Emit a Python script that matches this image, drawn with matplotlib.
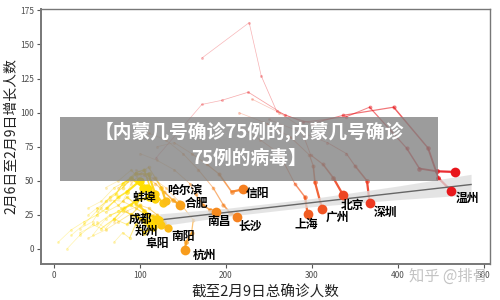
import matplotlib
matplotlib.use("Agg")
import matplotlib.pyplot as plt
import numpy as np
from matplotlib.patches import Rectangle

plt.rcParams['font.family'] = ['Noto Sans CJK SC', 'DejaVu Sans']

# ---------------- data ----------------
city_names = ["温州", "", "深圳", "北京", "广州", "上海", "信阳", "长沙", "南昌",
              "合肥", "杭州", "哈尔滨", "蚌埠", "成都", "郑州", "阜阳", "南阳",
              "", "", "", "", "", "", "", "", "", ""]

traj_x = [
    [119, 172, 195, 226, 269, 300, 336, 395, 435, 447, 462],
    [172, 227, 241, 259, 290, 340, 367, 410, 425, 445, 466],
    [250, 290, 318, 340, 350, 364, 367],
    [230, 262, 286, 298.5, 313, 325, 336],
    [215, 248, 275, 297, 301.5, 303.5, 312],
    [215, 240, 262, 280, 292, 295],
    [120, 140, 160, 178, 192, 206.6, 219.4],
    [110, 130, 150, 168, 185, 197, 204.7, 213],
    [100, 120, 140, 158, 165, 173.6, 181.4, 189],
    [75, 90, 105, 118, 128, 138, 146.5],
    [95, 115, 130, 145, 162, 160, 154, 152],
    [60, 75, 90, 100, 110, 118, 127],
    [40, 55, 70, 85, 95, 105, 112, 117],
    [30, 50, 65, 80, 95, 105, 115.5],
    [40, 60, 75, 90, 100, 112, 125],
    [50, 65, 80, 95, 105, 115, 122],
    [70, 85, 100, 110, 120, 128, 133],
    [5, 20, 35, 50, 62, 75, 85, 100],
    [15, 30, 45, 55, 70, 82, 95, 110],
    [20, 35, 50, 60, 72, 80, 90, 104],
    [30, 45, 55, 65, 80, 95, 110, 118],
    [40, 50, 60, 75, 85, 95, 105, 115],
    [50, 60, 70, 85, 95, 105, 112],
    [60, 70, 78, 90, 100, 108, 120],
    [70, 80, 88, 95, 105, 115],
    [45, 60, 75, 90, 100, 108],
    [80, 90, 100, 110, 118, 125, 130],
]
traj_y = [
    [67, 106, 109, 115, 98, 92, 98, 104, 74, 52, 42.7],
    [140, 166, 127, 101, 93, 97, 104, 74, 59, 57, 56.5],
    [95, 85, 78, 70, 61, 50, 33.9],
    [110, 100, 90, 69, 62, 52, 39.8],
    [100, 92, 82, 69, 61, 49, 29.1],
    [90, 80, 70, 48, 38, 25.7],
    [75, 78, 70, 62, 55, 42, 43.7],
    [85, 80, 70, 58, 45, 32.3, 26.7, 23.3],
    [70, 65, 58, 48, 40, 32.3, 28.6, 27],
    [45, 50, 54, 48, 42, 36, 32.3],
    [58, 52, 45, 35, 21.3, 11.6, 5.5, -0.5],
    [45, 50, 58, 50, 45, 40, 33.5],
    [30, 35, 45, 50, 56, 58, 45, 37],
    [12, 18, 25, 28, 24, 22, 20],
    [8, 14, 20, 26, 22, 20, 17.7],
    [30, 36, 35, 30, 26, 24, 21],
    [20, 28, 32, 30, 25, 20, 15.3],
    [5, 14, 20, 25, 30, 38, 42, 50],
    [0, 10, 18, 15, 22, 30, 35, 38],
    [10, 18, 28, 35, 40, 48, 52, 45],
    [15, 20, 30, 38, 45, 55, 55, 40],
    [25, 30, 27, 32, 38, 33, 28, 20],
    [20, 15, 22, 18, 25, 20, 18],
    [30, 35, 30, 25, 32, 26, 22],
    [5, 12, 8, 18, 12, 16],
    [10, 22, 28, 32, 40, 45],
    [35, 48, 55, 60, 52, 45, 35],
]

# linear fit of growth vs total (line + confidence band)
fit_x = [123, 200, 300, 400, 485]
fit_y = [21.3, 26.8, 34.0, 41.2, 47.3]
fit_se = [4.5, 3.0, 3.0, 5.0, 7.5]

x_ticks = [0, 100, 200, 300, 400, 500]
y_ticks = [0, 25, 50, 75, 100, 125, 150, 175]

title_text = "【内蒙几号确诊75例的,内蒙几号确诊\n75例的病毒】"

# ---------------- style ----------------
label_offsets = {  # pixel offsets of labels from end points
    "温州": (16, -8), "深圳": (16, -10), "北京": (10, -11), "广州": (15, -8),
    "上海": (-1, -11), "信阳": (15, -4), "长沙": (13, -9), "南昌": (3, -9),
    "合肥": (17, 2), "杭州": (20, -6), "哈尔滨": (22, 13), "蚌埠": (-10, 1),
    "成都": (-13, 2), "郑州": (-15, -7), "阜阳": (-2, -23), "南阳": (15, -8),
}

c_pos = [60, 110, 125, 140, 160, 220, 290, 340, 470]
c_hex = ['#FFEA00', '#FFDD00', '#FDC812', '#F9A81B', '#F7941D', '#F57F20',
         '#F15F22', '#EE4322', '#E8141B']
c_rgb = np.array([matplotlib.colors.to_rgb(h) for h in c_hex])


def color_for(v):
    return tuple(np.interp(v, c_pos, c_rgb[:, k]) for k in range(3))


fig = plt.figure(figsize=(5, 3), dpi=100)
ax = fig.add_axes([41 / 500, 36 / 300, 449 / 500, 255 / 300])

for name, xs, ys in zip(city_names, traj_x, traj_y):
    col = color_for(xs[-1])
    n = len(xs)
    for i in range(n - 1):
        t = (i + 1) / (n - 1)
        ax.plot(xs[i:i + 2], ys[i:i + 2], color=col, lw=0.5 + 1.1 * t ** 3,
                alpha=0.3 + 0.6 * t ** 2, solid_capstyle='round', zorder=2)
    for i in range(n - 1):
        t = i / (n - 1)
        ax.plot(xs[i], ys[i], 'o', color=col, ms=2.0 + 2.0 * t ** 2,
                alpha=0.3 + 0.55 * t ** 2, mec='none', zorder=2)

fx = np.array(fit_x)
fy = np.array(fit_y)
fs = np.array(fit_se)
ax.fill_between(fx, fy - fs, fy + fs, color='#dcdcdc', alpha=0.75, lw=0, zorder=3)
ax.plot(fx, fy, color='#666666', lw=1.0, zorder=4)

for name, xs, ys in zip(city_names, traj_x, traj_y):
    col = color_for(xs[-1])
    ms = 7 if xs[-1] > 140 else 6
    ax.plot(xs[-1], ys[-1], 'o', color=col, ms=ms, mec='none', zorder=5)
    if name:
        dx, dy = label_offsets[name]
        ax.annotate(name, (xs[-1], ys[-1]), xytext=(dx, dy),
                    textcoords='offset pixels', ha='center', va='center',
                    fontsize=8.5, fontweight='heavy', color='black', zorder=6)

ax.set_xlim(-15, 507)
ax.set_ylim(-11, 176)
ax.set_xticks(x_ticks)
ax.set_yticks(y_ticks)
ax.tick_params(axis='both', labelsize=6, colors='#555555', length=3, width=0.8,
               labelcolor='#4d4d4d', pad=2)
for s in ax.spines.values():
    s.set_color('#777777')
    s.set_linewidth(1.0)
ax.spines['left'].set_linewidth(1.4)
ax.spines['bottom'].set_linewidth(1.4)

ax.set_xlabel("截至2月9日总确诊人数", fontsize=10.5, color='#222222', labelpad=4)
ax.set_ylabel("2月6日至2月9日增长人数", fontsize=10, color='#222222', labelpad=1)

# title overlay box
fig.patches.append(Rectangle((60 / 500, 1 - 181 / 300), 378 / 500, 64 / 300,
                             transform=fig.transFigure, facecolor='#808080',
                             alpha=0.78, edgecolor='none', zorder=10))
fig.text(249 / 500, 1 - 145 / 300, title_text, ha='center', va='center',
         fontsize=13.5, fontweight='black', color='white', linespacing=1.45,
         zorder=11)

# watermark
fig.text(448 / 500, 1 - 276 / 300, "知乎 @排骨", ha='center', va='center',
         fontsize=11, color='#bdbdbd', alpha=0.9, zorder=11)

fig.savefig("out.png", dpi=100)
